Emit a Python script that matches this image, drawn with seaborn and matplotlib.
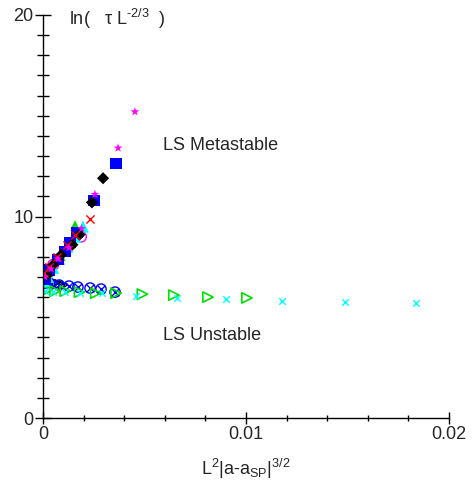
import matplotlib
matplotlib.use("Agg")
import matplotlib.pyplot as plt
import seaborn as sns

# upper branch (LS metastable)
star_x = [0.0001, 0.0004, 0.00074, 0.00128, 0.0019, 0.00256, 0.0037, 0.00453]
star_y = [7.0, 7.4, 7.9, 8.45, 9.4, 11.1, 13.4, 15.2]
square_x = [0.0001, 0.00034, 0.00074, 0.00108, 0.00133, 0.00168, 0.00251, 0.0036]
square_y = [6.9, 7.35, 7.85, 8.25, 8.7, 9.2, 10.8, 12.65]
diamond_x = [0.0002, 0.0005, 0.0009, 0.00145, 0.0018, 0.00241, 0.00296]
diamond_y = [7.1, 7.6, 8.1, 8.6, 9.1, 10.7, 11.9]
redx_x = [0.00005, 0.0003, 0.0007, 0.0012, 0.0016, 0.00232]
redx_y = [7.2, 7.5, 8.0, 8.6, 9.1, 9.9]
cyantri_x = [0.00005, 0.00025, 0.0005, 0.0008, 0.0012, 0.0016, 0.00197]
cyantri_y = [6.8, 7.0, 7.45, 7.9, 8.5, 9.0, 9.5]
greenup_x = [0.0003, 0.0009, 0.00158]
greenup_y = [7.2, 8.0, 9.6]
magcirc_x = [0.00002, 0.0001, 0.0005, 0.00187]
magcirc_y = [6.9, 7.2, 7.6, 9.0]

# lower branch (LS unstable)
blacklow_x = [0.00005, 0.0002, 0.0004, 0.0006, 0.0008, 0.001]
blacklow_y = [6.95, 6.85, 6.8, 6.7, 6.65, 6.6]
otimes_x = [0.0001, 0.0004, 0.0008, 0.00128, 0.00172, 0.00232, 0.00286, 0.00355]
otimes_y = [6.7, 6.65, 6.6, 6.55, 6.5, 6.45, 6.4, 6.25]
greenr_x = [0.0002, 0.0006, 0.0011, 0.0018, 0.0026, 0.0036, 0.0049, 0.00645, 0.00813, 0.01005]
greenr_y = [6.35, 6.3, 6.3, 6.25, 6.2, 6.2, 6.15, 6.1, 6.0, 5.96]
cyanx_x = [0.0001, 0.0005, 0.0011, 0.0018, 0.0029, 0.00458, 0.0066, 0.00901, 0.01177, 0.01488, 0.01837]
cyanx_y = [6.3, 6.25, 6.25, 6.2, 6.2, 6.05, 5.95, 5.9, 5.8, 5.76, 5.71]

sns.set_style("ticks")
plt.rcParams['font.family'] = ['Liberation Sans', 'DejaVu Sans']
plt.rcParams['mathtext.default'] = 'regular'

fig = plt.figure(figsize=(4.75, 4.93), dpi=100)
ax = fig.add_axes([0.0905, 0.152, 0.8545, 0.8176])

# lower branch
sns.scatterplot(x=blacklow_x, y=blacklow_y, ax=ax, marker='>', s=40,
                facecolor='none', edgecolor='black', linewidth=1)
sns.scatterplot(x=otimes_x, y=otimes_y, ax=ax, marker='o', s=55,
                facecolor='none', edgecolor='blue', linewidth=1)
sns.scatterplot(x=otimes_x, y=otimes_y, ax=ax, marker='x', s=30,
                color='blue', linewidth=1)
sns.scatterplot(x=greenr_x, y=greenr_y, ax=ax, marker='>', s=55,
                facecolor='none', edgecolor='#00e000', linewidth=1.2)
sns.scatterplot(x=cyanx_x, y=cyanx_y, ax=ax, marker='x', s=22,
                color='cyan', linewidth=1)

# upper branch
sns.scatterplot(x=magcirc_x, y=magcirc_y, ax=ax, marker='o', s=60,
                facecolor='none', edgecolor='magenta', linewidth=1)
sns.scatterplot(x=cyantri_x, y=cyantri_y, ax=ax, marker='^', s=75,
                color='cyan', edgecolor='none')
sns.scatterplot(x=greenup_x, y=greenup_y, ax=ax, marker='^', s=40,
                color='#00e000', edgecolor='none')
sns.scatterplot(x=square_x, y=square_y, ax=ax, marker='s', s=65,
                color='blue', edgecolor='none')
sns.scatterplot(x=diamond_x, y=diamond_y, ax=ax, marker='D', s=38,
                color='black', edgecolor='none')
sns.scatterplot(x=redx_x, y=redx_y, ax=ax, marker='x', s=35,
                color='red', linewidth=1)
sns.scatterplot(x=star_x, y=star_y, ax=ax, marker='*', s=45,
                color='magenta', edgecolor='none')

ax.set_xlim(0, 0.02)
ax.set_ylim(0, 20)
ax.set_xticks([0, 0.01, 0.02])
ax.set_xticklabels(['0', '0.01', '0.02'])
ax.set_xticks([0.002 * i for i in range(1, 10) if i != 5], minor=True)
ax.set_yticks([0, 10, 20])
ax.set_yticks([i for i in range(1, 20) if i != 10], minor=True)
sns.despine(ax=ax)
ax.tick_params(axis='both', which='major', direction='inout', length=12, width=1,
               labelsize=13, pad=1, color='black')
ax.tick_params(axis='both', which='minor', direction='inout', length=8, width=1, color='black')
ax.tick_params(axis='x', which='major', length=9)
ax.tick_params(axis='x', which='minor', length=5)
for sp in ax.spines.values():
    sp.set_color('black')
    sp.set_linewidth(1)

ax.text(0.0013, 19.8, u'ln(   \u03c4 L$^{\u20102/3}$  )', fontsize=13, va='center', ha='left')
ax.text(0.0059, 13.5, 'LS Metastable', fontsize=13, va='center', ha='left')
ax.text(0.0059, 4.1, 'LS Unstable', fontsize=13, va='center', ha='left')
ax.set_xlabel(r'L$^2$|a-a$_{SP}$|$^{3/2}$', fontsize=13, labelpad=10)
ax.set_ylabel('')

fig.savefig('out.png', dpi=100)
